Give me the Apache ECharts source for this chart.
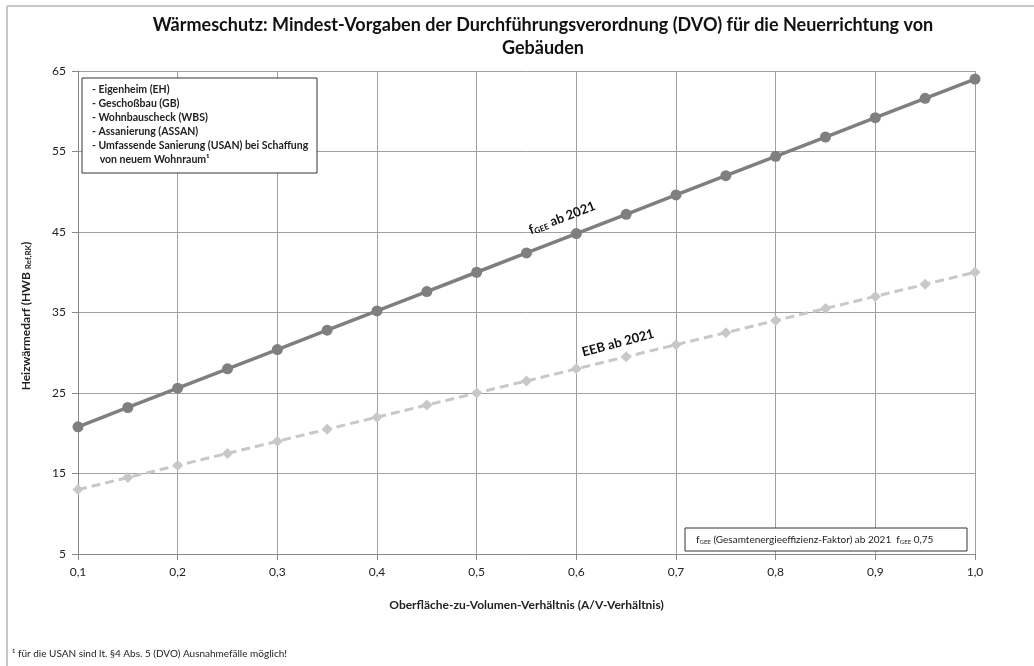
<!DOCTYPE html>
<html>
<head>
<meta charset="utf-8">
<script src="https://cdn.jsdelivr.net/npm/echarts@6/dist/echarts.min.js"></script>
<style>
  html, body { margin: 0; padding: 0; background: #fff; }
  #chart { width: 1034px; height: 666px; }
</style>
</head>
<body>
<div id="chart"></div>
<script>
const avRatio = [0.1, 0.15, 0.2, 0.25, 0.3, 0.35, 0.4, 0.45, 0.5, 0.55, 0.6, 0.65, 0.7, 0.75, 0.8, 0.85, 0.9, 0.95, 1.0]
const fGee2021 = [20.8, 23.2, 25.6, 28.0, 30.4, 32.8, 35.2, 37.6, 40.0, 42.4, 44.8, 47.2, 49.6, 52.0, 54.4, 56.8, 59.2, 61.6, 64.0]
const eeb2021 = [13.0, 14.5, 16.0, 17.5, 19.0, 20.5, 22.0, 23.5, 25.0, 26.5, 28.0, 29.5, 31.0, 32.5, 34.0, 35.5, 37.0, 38.5, 40.0]
const legendLines = [
  '- Eigenheim (EH)',
  '- Geschoßbau (GB)',
  '- Wohnbauscheck (WBS)',
  '- Assanierung (ASSAN)',
  '- Umfassende Sanierung (USAN) bei Schaffung',
  '   von neuem Wohnraum¹'
]

const FONT = 'Lato, "Open Sans", sans-serif'
const chart = echarts.init(document.getElementById('chart'))

const pair = (xs, ys) => xs.map((x, i) => [x, ys[i]])

const option = {
  animation: false,
  backgroundColor: '#fff',
  textStyle: { fontFamily: FONT },
  grid: { left: 78, right: 59, top: 71, bottom: 112 },
  xAxis: {
    type: 'value',
    min: 0.1,
    max: 1.0,
    interval: 0.1,
    axisLine: { lineStyle: { color: '#888', width: 1 } },
    axisTick: { show: true, length: 6, lineStyle: { color: '#888' } },
    axisLabel: {
      color: '#222', fontSize: 12, fontFamily: FONT, margin: 12,
      formatter: v => v.toFixed(1).replace('.', ',')
    },
    splitLine: { show: true, lineStyle: { color: '#a0a0a0', width: 1 } },
    name: 'Oberfläche-zu-Volumen-Verhältnis (A/V-Verhältnis)',
    nameLocation: 'middle',
    nameGap: 45,
    nameTextStyle: { fontSize: 12, fontWeight: 'bold', color: '#222', fontFamily: FONT }
  },
  yAxis: {
    type: 'value',
    min: 5,
    max: 65,
    interval: 10,
    axisLine: { show: true, lineStyle: { color: '#888', width: 1 } },
    axisTick: { show: true, length: 6, lineStyle: { color: '#888' } },
    axisLabel: { color: '#222', fontSize: 12, fontFamily: FONT, margin: 12 },
    splitLine: { show: true, lineStyle: { color: '#a0a0a0', width: 1 } }
  },
  series: [
    {
      name: 'EEB ab 2021',
      type: 'line',
      data: pair(avRatio, eeb2021),
      symbol: 'diamond',
      symbolSize: 11,
      lineStyle: { color: '#c8c8c8', width: 3, type: [9, 5] },
      itemStyle: { color: '#c8c8c8' },
      z: 3
    },
    {
      name: 'fGEE ab 2021',
      type: 'line',
      data: pair(avRatio, fGee2021),
      symbol: 'circle',
      symbolSize: 11,
      lineStyle: { color: '#7f7f7f', width: 3.5 },
      itemStyle: { color: '#7f7f7f' },
      z: 4
    }
  ],
  graphic: [
    // Rahmen (oben, links)
    { type: 'line', shape: { x1: 7, y1: 6, x2: 1034, y2: 6 }, style: { stroke: '#c8c8c8', lineWidth: 2 }, silent: true },
    { type: 'line', shape: { x1: 7, y1: 6, x2: 7, y2: 666 }, style: { stroke: '#c8c8c8', lineWidth: 2 }, silent: true },
    // Titel
    {
      type: 'text', x: 543, y: 14,
      style: {
        text: 'Wärmeschutz: Mindest-Vorgaben der Durchführungsverordnung (DVO) für die Neuerrichtung von\nGebäuden',
        align: 'center', verticalAlign: 'top',
        font: 'bold 18px ' + FONT, fill: '#111', lineHeight: 23
      }
    },
    // Y-Achsentitel
    {
      type: 'text', x: 26, y: 316, rotation: Math.PI / 2,
      style: {
        text: '{b|Heizwärmedarf (HWB }{s|Ref,RK}{b|)}',
        align: 'center', verticalAlign: 'middle',
        rich: {
          b: { font: 'bold 12px ' + FONT, fill: '#222' },
          s: { font: 'bold 8px ' + FONT, fill: '#222', padding: [4, 0, 0, 0] }
        }
      }
    },
    // Legendenbox
    {
      type: 'rect', shape: { x: 82, y: 78, width: 235, height: 95 },
      style: { fill: '#fff', stroke: '#333', lineWidth: 1 }, z: 10
    },
    {
      type: 'text', x: 92, y: 83, z: 11,
      style: { text: legendLines.join('\n'), font: 'bold 10.5px ' + FONT, fill: '#222', lineHeight: 14 }
    },
    // Infobox unten rechts
    {
      type: 'rect', shape: { x: 685, y: 528, width: 282, height: 23 },
      style: { fill: '#fff', stroke: '#333', lineWidth: 1 }, z: 10
    },
    {
      type: 'text', x: 696, y: 540, z: 11,
      style: {
        text: '{n|f}{s|GEE}{n| (Gesamtenergieeffizienz-Faktor) ab 2021  f}{s|GEE}{n| 0,75}',
        verticalAlign: 'middle',
        rich: {
          n: { font: '10px ' + FONT, fill: '#222' },
          s: { font: '6px ' + FONT, fill: '#222', padding: [4, 0, 0, 0] }
        }
      }
    },
    // Linienbeschriftungen
    {
      type: 'text', x: 562, y: 218, rotation: 21 * Math.PI / 180, z: 12,
      style: {
        text: '{n|f}{s|GEE}{n| ab 2021}',
        align: 'center', verticalAlign: 'middle',
        rich: {
          n: { font: 'bold 13px ' + FONT, fill: '#111' },
          s: { font: 'bold 8px ' + FONT, fill: '#111', padding: [6, 0, 0, 0] }
        }
      }
    },
    {
      type: 'text', x: 618, y: 343, rotation: 15 * Math.PI / 180, z: 12,
      style: {
        text: 'EEB ab 2021', align: 'center', verticalAlign: 'middle',
        font: 'bold 13px ' + FONT, fill: '#111'
      }
    },
    // Fußnote
    {
      type: 'text', x: 12, y: 649,
      style: { text: '¹ für die USAN sind lt. §4 Abs. 5 (DVO) Ausnahmefälle möglich!', font: '10px ' + FONT, fill: '#222' }
    }
  ]
}

chart.setOption(option)
</script>
</body>
</html>
